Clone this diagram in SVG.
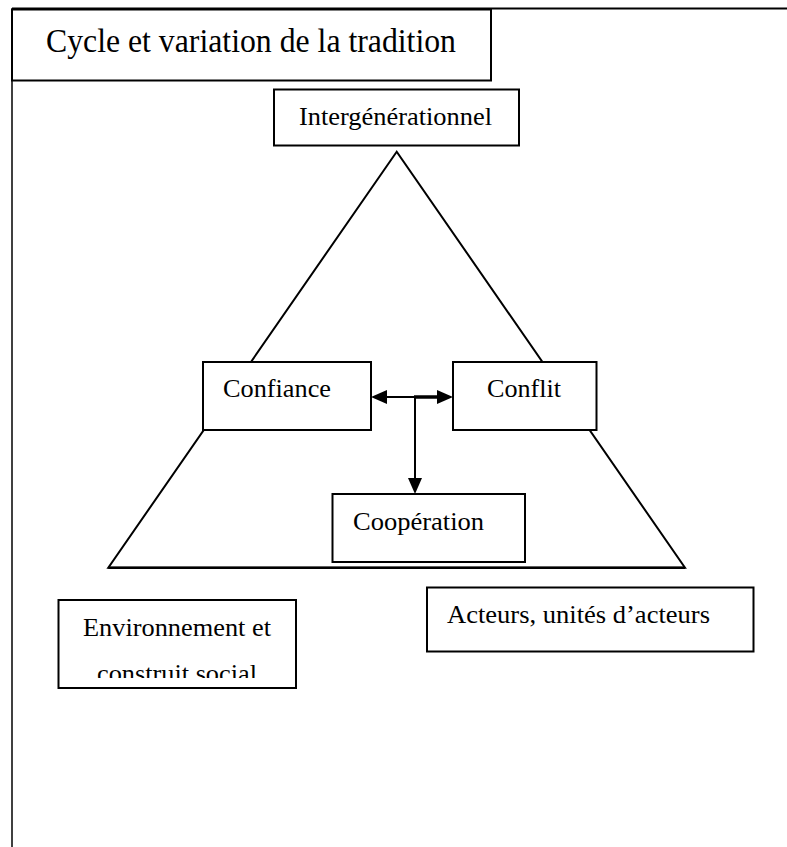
<svg xmlns="http://www.w3.org/2000/svg" width="787" height="847" viewBox="0 0 787 847">
  <style>
    .box { fill: #fff; stroke: #000; stroke-width: 2; }
    .lbl { font-family: "Liberation Serif", "Times New Roman", serif; font-size: 26px; fill: #000; }
    .title { font-family: "Liberation Serif", "Times New Roman", serif; font-size: 34px; fill: #000; }
    .edge { stroke: #000; fill: none; }
  </style>
  <defs>
    <clipPath id="envClip">
      <rect x="59" y="601" width="236" height="77"/>
    </clipPath>
  </defs>
  <rect width="787" height="847" fill="#fff"/>

  <!-- outer frame (open on the right and bottom) -->
  <g id="frame">
    <line x1="12" y1="8.5" x2="787" y2="8.5" stroke="#000" stroke-width="2"/>
    <line x1="12" y1="8.5" x2="12" y2="847" stroke="#000" stroke-width="1.5"/>
  </g>

  <!-- triangle behind the nodes -->
  <g id="triangle">
    <polygon points="396.7,151.7 108.3,567.7 685,567.7" fill="none" stroke="#000" stroke-width="2"/>
    <line x1="108.3" y1="567.7" x2="685" y2="567.7" stroke="#000" stroke-width="2.5"/>
  </g>

  <g id="title">
    <rect class="box" x="12" y="9.5" width="479" height="71" stroke-width="2.5"/>
    <text class="title" x="46" y="52" textLength="410" lengthAdjust="spacingAndGlyphs">Cycle et variation de la tradition</text>
  </g>

  <g id="intergenerationnel">
    <rect class="box" x="274" y="89.5" width="245" height="56"/>
    <text class="lbl" x="299" y="125" textLength="193" lengthAdjust="spacingAndGlyphs">Intergénérationnel</text>
  </g>

  <g id="confiance">
    <rect class="box" x="203" y="362" width="168" height="68"/>
    <text class="lbl" x="223" y="397" textLength="108" lengthAdjust="spacingAndGlyphs">Confiance</text>
  </g>

  <g id="conflit">
    <rect class="box" x="453" y="362" width="143.5" height="68"/>
    <text class="lbl" x="487" y="397" textLength="74" lengthAdjust="spacingAndGlyphs">Conflit</text>
  </g>

  <g id="cooperation">
    <rect class="box" x="332.5" y="494" width="192.5" height="68"/>
    <text class="lbl" x="353" y="530" textLength="131" lengthAdjust="spacingAndGlyphs">Coopération</text>
  </g>

  <g id="environnement">
    <rect class="box" x="58.5" y="600" width="237.5" height="88"/>
    <g clip-path="url(#envClip)">
      <text class="lbl" x="83" y="636" textLength="188" lengthAdjust="spacingAndGlyphs">Environnement et</text>
      <text class="lbl" x="97" y="681.5" textLength="160" lengthAdjust="spacingAndGlyphs">construit social</text>
    </g>
  </g>

  <g id="acteurs">
    <rect class="box" x="427" y="587.5" width="326.5" height="64"/>
    <text class="lbl" x="447" y="623" textLength="263" lengthAdjust="spacingAndGlyphs">Acteurs, unités d’acteurs</text>
  </g>

  <!-- connectors between Confiance, Conflit and Coopération -->
  <g id="connectors">
    <line class="edge" x1="386" y1="397" x2="416" y2="397" stroke-width="2"/>
    <line class="edge" x1="414" y1="397" x2="438" y2="397" stroke-width="3.5"/>
    <polygon points="371,397 387,390 387,404" fill="#000"/>
    <polygon points="453,397 437,390 437,404" fill="#000"/>
    <line class="edge" x1="415" y1="397" x2="415" y2="479" stroke-width="2"/>
    <polygon points="415,494 408,478 422,478" fill="#000"/>
  </g>
</svg>
